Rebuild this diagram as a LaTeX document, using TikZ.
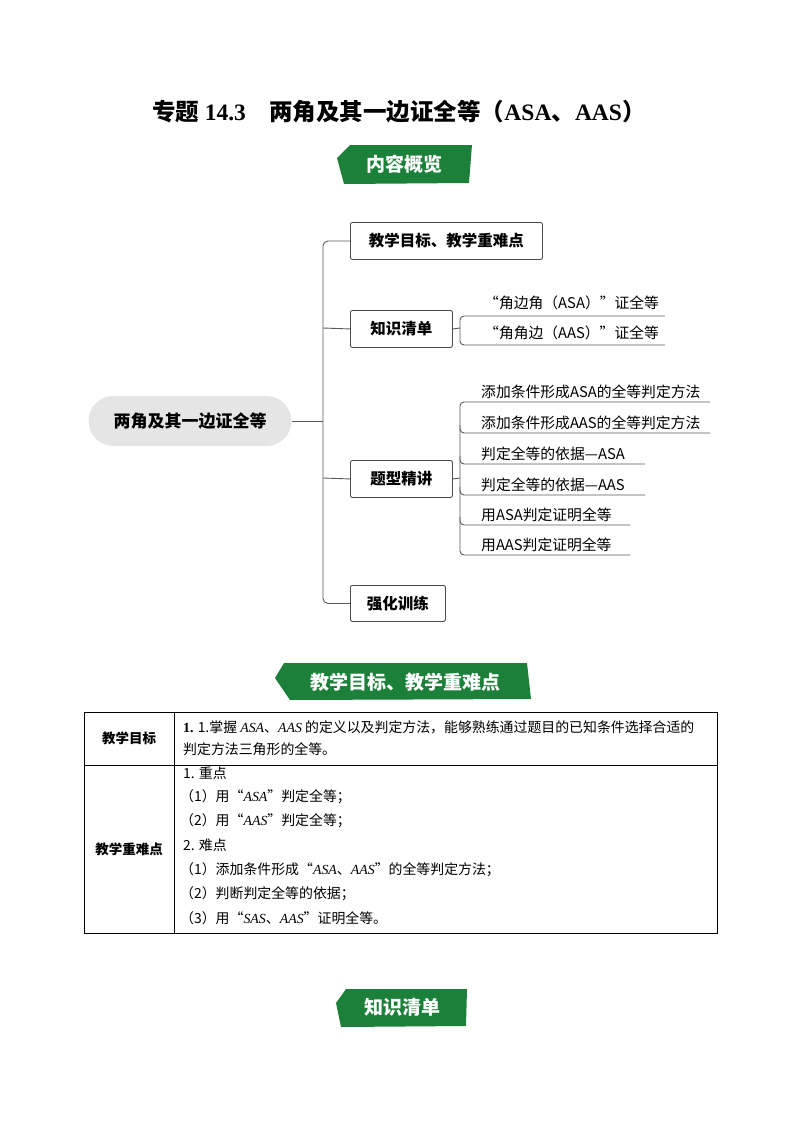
\documentclass[tikz,border=0pt]{standalone}
\usepackage{fontspec}
\setmainfont{Noto Sans CJK SC}
\newfontfamily\lat{Liberation Serif}
\definecolor{bg}{RGB}{28,128,58}
\begin{document}
\begin{tikzpicture}[x=1pt,y=-1pt,
  box/.style={draw=black!70,line width=0.9pt,rounded corners=2pt,anchor=north west,inner sep=0pt},
  bt/.style={font=\bfseries\fontsize{15.5}{15.5}\selectfont},
  leaf/.style={anchor=south west,font=\fontsize{14.8}{14.8}\selectfont,inner sep=0pt},
  ln/.style={draw=black!65,line width=0.9pt},
  banner/.style={fill=bg,draw=none},
  btext/.style={text=white,font=\bfseries\fontsize{19}{19}\selectfont},
  cell/.style={anchor=west,font=\fontsize{13.9}{13.9}\selectfont,inner sep=0pt}]
\useasboundingbox (0,0) rectangle (800,1132);
\node[font=\bfseries\fontsize{23.5}{23.5}\selectfont] (title) at (399,112) {专题 {\lat\bfseries 14.3}\hspace{1em}两角及其一边证全等（{\lat\bfseries ASA}、{\lat\bfseries AAS}）};
% banner 1
\fill[banner] (350,145) -- (472,145) -- (469,183) -- (344,184) -- (337,158) -- cycle;
\node[btext] (b1) at (404,164) {内容概览};
% mind map
\node[fill=black!10,rounded corners=25pt,minimum width=203pt,minimum height=50pt,font=\bfseries\fontsize{17}{17}\selectfont] (root) at (190,421) {两角及其一边证全等};
\node[box,minimum width=192pt,minimum height=37pt] (m1) at (350,222) {};
\node[bt] at (m1.center) {教学目标、教学重难点};
\node[box,minimum width=102pt,minimum height=37pt] (m2) at (350,310) {};
\node[bt] at (m2.center) {知识清单};
\node[box,minimum width=102pt,minimum height=37pt] (m3) at (350,460) {};
\node[bt] at (m3.center) {题型精讲};
\node[box,minimum width=95pt,minimum height=36pt] (m4) at (350,585) {};
\node[bt] at (m4.center) {强化训练};
\coordinate (tr) at (323,421);
\draw[ln] (root.east) -- (tr);
\draw[ln,rounded corners=5pt] (m1.west) -| (tr) |- (m4.west);
\draw[ln] (323,328) -- (m2.west);
\draw[ln] (323,478) -- (m3.west);
% knowledge leaves
\coordinate (k) at (460,328);
\draw[ln] (m2.east) -- (k);
\draw[ln,rounded corners=4pt] (665,316) -- (460,316) -- (460,345) -- (665,345);
\node[leaf] (k1) at (484,310) {“角边角（ASA）”证全等};
\node[leaf] (k2) at (484,340) {“角角边（AAS）”证全等};
% type leaves
\draw[ln] (m3.east) -- (460,478);
\draw[ln,rounded corners=4pt] (710,402) -- (460,402) -- (460,555) -- (630,555);
\foreach \y/\e in {433/710,464/645,495/645,525/630}{
  \draw[ln,rounded corners=4pt] (460,\y-8) -- (460,\y) -- (\e,\y);}
\node[leaf] (t1) at (481,399) {添加条件形成ASA的全等判定方法};
\node[leaf] (t2) at (481,430) {添加条件形成AAS的全等判定方法};
\node[leaf] (t3) at (481,461) {判定全等的依据—ASA};
\node[leaf] (t4) at (481,492) {判定全等的依据—AAS};
\node[leaf] (t5) at (481,522) {用ASA判定证明全等};
\node[leaf] (t6) at (481,552) {用AAS判定证明全等};
% banner 2
\fill[banner] (284,663) -- (527,663) -- (531,699) -- (290,700) -- (275,678) -- cycle;
\node[btext] (b2) at (405,682) {教学目标、教学重难点};
% table
\draw[line width=0.8pt] (84,712) rectangle (717,933);
\draw[line width=0.6pt] (84,765) -- (717,765);
\draw[line width=0.6pt] (174,712) -- (174,933);
\node[font=\bfseries\fontsize{13.5}{13.5}\selectfont] (c1) at (129,738) {教学目标};
\node[font=\bfseries\fontsize{13.5}{13.5}\selectfont] (c2) at (129,849) {教学重难点};
\node[cell] (r1) at (183,727) {{\lat\bfseries 1.} 1.掌握 {\lat\itshape ASA}、{\lat\itshape AAS} 的定义以及判定方法，能够熟练通过题目的已知条件选择合适的};
\node[cell] (r2) at (183,749) {判定方法三角形的全等。};
\node[cell] (s1) at (183,773) {1. 重点};
\node[cell] (s2) at (180,797) {（1）用“{\lat\itshape ASA}”判定全等；};
\node[cell] (s3) at (180,821) {（2）用“{\lat\itshape AAS}”判定全等；};
\node[cell] (s4) at (183,845) {2. 难点};
\node[cell] (s5) at (180,870) {（1）添加条件形成“{\lat\itshape ASA}、{\lat\itshape AAS}”的全等判定方法；};
\node[cell] (s6) at (180,894) {（2）判断判定全等的依据；};
\node[cell] (s7) at (180,918) {（3）用“{\lat\itshape SAS}、{\lat\itshape AAS}”证明全等。};
% banner 3
\fill[banner] (346,989) -- (467,989) -- (466,1026) -- (341,1027) -- (336,1003) -- cycle;
\node[btext] (b3) at (402,1007) {知识清单};
\end{tikzpicture}
\end{document}
